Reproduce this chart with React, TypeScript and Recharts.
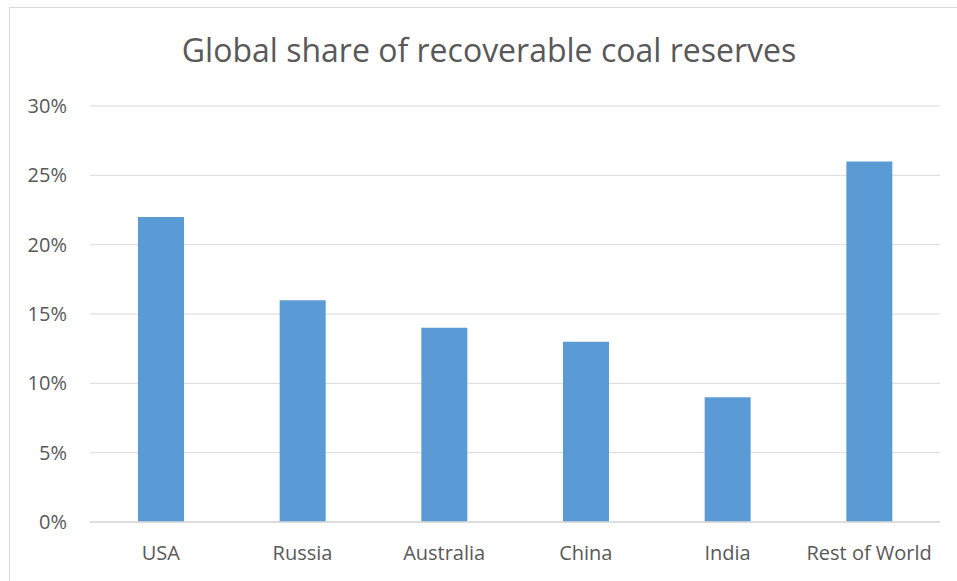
import React from "react";
import { BarChart, Bar, XAxis, YAxis, CartesianGrid } from "recharts";

const regions = ["USA", "Russia", "Australia", "China", "India", "Rest of World"];
const shares = [0.22, 0.16, 0.14, 0.13, 0.09, 0.26];
const yTicks = [0, 0.05, 0.1, 0.15, 0.2, 0.25, 0.3];

const data = regions.map((name, i) => ({ name, share: shares[i] }));

const FONT = "'Open Sans', 'Liberation Sans', sans-serif";
const TEXT = "#595959";

export default function App() {
  return (
    <div style={{ position: "absolute", left: 0, top: 0, width: 957, height: 581, background: "#fff", overflow: "hidden" }}>
      <div
        style={{
          position: "absolute",
          left: 9,
          top: 7,
          width: 960,
          height: 600,
          border: "1px solid #D9D9D9",
          boxSizing: "border-box",
        }}
      />
      <div
        style={{
          position: "absolute",
          left: 0,
          top: 28,
          width: 978,
          textAlign: "center",
          fontFamily: FONT,
          fontSize: 32,
          lineHeight: "44px",
          color: TEXT,
          whiteSpace: "nowrap",
        }}
      >
        Global share of recoverable coal reserves
      </div>
      <BarChart
        width={957}
        height={581}
        data={data}
        margin={{ top: 106, right: 17, bottom: 0, left: 0 }}
        style={{ position: "absolute", left: 0, top: 0 }}
      >
        <CartesianGrid vertical={false} stroke="#D9D9D9" strokeWidth={1} />
        <XAxis
          dataKey="name"
          height={59}
          tickSize={0}
          tickMargin={24}
          axisLine={{ stroke: "#D9D9D9", strokeWidth: 1.5 }}
          tick={{ fill: TEXT, fontSize: 20, fontFamily: FONT }}
          interval={0}
        />
        <YAxis
          width={90}
          domain={[0, 0.3]}
          ticks={yTicks}
          tickSize={0}
          tickMargin={23}
          axisLine={false}
          tickFormatter={(v: number) => `${Math.round(v * 100)}%`}
          tick={{ fill: TEXT, fontSize: 20, fontFamily: FONT }}
        />
        <Bar dataKey="share" fill="#5B9BD5" barSize={46} isAnimationActive={false} />
      </BarChart>
    </div>
  );
}
